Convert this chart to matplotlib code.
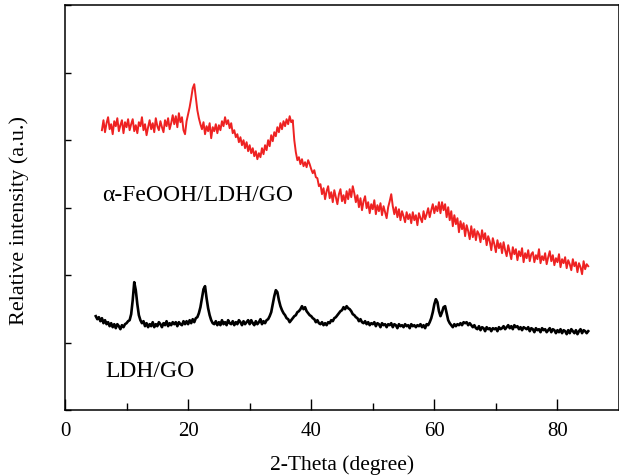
import numpy as np
import matplotlib
matplotlib.use("Agg")
import matplotlib.pyplot as plt

# XRD scan grids (0.25 degree step)
two_theta_ldh = np.arange(5.0, 85.001, 0.25)
two_theta_feooh = np.arange(6.0, 85.001, 0.25)

# LDH/GO intensity (a.u.)
ldh_go = [
    94, 91, 93, 89, 92, 87, 90, 86, 88, 84, 87, 83, 86, 82, 86, 84, 81, 85, 83, 86,
    87, 89, 90, 96, 110, 128, 120, 106, 95, 90, 87, 89, 84, 87, 83, 86, 84, 88, 83, 86,
    84, 88, 86, 83, 87, 85, 89, 84, 87, 85, 88, 86, 88, 84, 88, 86, 85, 89, 86, 89,
    86, 90, 87, 91, 88, 92, 93, 97, 103, 112, 121, 124, 112, 102, 95, 90, 87, 86, 89, 85,
    88, 85, 90, 86, 88, 85, 90, 87, 86, 89, 85, 88, 86, 90, 88, 85, 89, 86, 88, 90,
    86, 90, 87, 85, 89, 86, 88, 91, 86, 89, 87, 90, 91, 94, 98, 106, 114, 120, 118, 110,
    104, 100, 97, 95, 92, 91, 88, 90, 92, 94, 95, 98, 99, 101, 104, 101, 103, 99, 97, 95,
    94, 92, 91, 88, 90, 87, 86, 88, 85, 87, 85, 88, 87, 90, 89, 92, 93, 95, 97, 99,
    100, 103, 101, 104, 102, 101, 99, 96, 95, 93, 92, 89, 91, 88, 87, 89, 86, 88, 85, 87,
    86, 88, 84, 87, 86, 83, 87, 85, 86, 83, 86, 85, 87, 83, 86, 85, 82, 86, 84, 85,
    83, 86, 84, 85, 82, 86, 84, 85, 83, 85, 84, 86, 83, 85, 82, 86, 85, 88, 92, 98,
    106, 111, 108, 99, 94, 98, 103, 104, 97, 90, 87, 85, 83, 86, 84, 86, 85, 87, 85, 88,
    87, 88, 85, 87, 85, 83, 85, 82, 81, 84, 80, 83, 82, 79, 83, 81, 82, 79, 82, 81,
    82, 79, 83, 81, 82, 84, 81, 83, 85, 82, 84, 81, 85, 83, 84, 81, 83, 80, 83, 82,
    81, 83, 79, 82, 81, 78, 82, 80, 81, 78, 82, 80, 81, 78, 80, 82, 78, 81, 80, 77,
    80, 78, 81, 77, 80, 79, 76, 80, 77, 81, 79, 77, 80, 76, 79, 81, 77, 80, 79, 77,
    79,
]

# alpha-FeOOH/LDH/GO intensity (a.u.)
feooh_ldh_go = [
    280, 290, 278, 287, 293, 281, 286, 276, 289, 284, 292, 279, 285, 290, 277, 288, 283, 291, 280, 286,
    291, 279, 285, 277, 288, 284, 293, 280, 286, 275, 283, 290, 281, 287, 278, 292, 284, 280, 289, 283,
    278, 290, 284, 292, 281, 287, 295, 286, 294, 283, 297, 288, 293, 280, 276, 289, 296, 303, 312, 322,
    326, 313, 300, 292, 286, 281, 288, 276, 284, 279, 287, 272, 283, 279, 286, 277, 285, 280, 289, 284,
    293, 286, 290, 282, 287, 277, 280, 273, 276, 268, 273, 265, 270, 262, 268, 259, 265, 257, 262, 254,
    259, 251, 257, 253, 262, 256, 265, 260, 270, 264, 275, 269, 278, 274, 283, 278, 287, 281, 289, 284,
    291, 286, 294, 288, 290, 270, 258, 250, 253, 246, 251, 244, 248, 243, 250, 246, 241, 237, 240, 233,
    232, 224, 226, 216, 222, 211, 219, 224, 212, 218, 208, 220, 213, 206, 216, 221, 209, 215, 207, 219,
    211, 221, 213, 224, 217, 208, 215, 203, 212, 200, 209, 214, 202, 208, 197, 206, 201, 210, 196, 205,
    199, 207, 195, 204, 198, 192, 203, 209, 216, 204, 196, 203, 193, 201, 190, 199, 194, 188, 198, 191,
    196, 187, 198, 190, 195, 185, 197, 192, 188, 199, 191, 196, 202, 193, 200, 206, 197, 204, 199, 208,
    197, 208, 200, 206, 193, 203, 190, 199, 184, 195, 186, 192, 178, 189, 181, 187, 174, 185, 179, 171,
    184, 173, 181, 170, 179, 176, 168, 180, 171, 177, 165, 174, 169, 160, 172, 166, 158, 170, 162, 167,
    157, 168, 160, 154, 165, 158, 151, 163, 156, 161, 150, 159, 154, 162, 148, 157, 152, 160, 149, 156,
    158, 148, 155, 151, 161, 147, 154, 150, 157, 146, 153, 159, 149, 155, 145, 152, 148, 156, 143, 151,
    147, 153, 142, 150, 146, 140, 151, 144, 148, 138, 147, 143, 136, 149, 141, 146, 144,
]

plt.rcParams['font.family'] = ['Liberation Serif', 'DejaVu Serif']

fig = plt.figure(figsize=(6.19, 4.77), dpi=100)
ax = fig.add_axes([0.105, 0.138, 0.895, 0.849])

ax.plot(two_theta_ldh, ldh_go, color='black', linewidth=1.9)
ax.plot(two_theta_feooh, feooh_ldh_go, color='#ee2222', linewidth=1.4)

ax.text(6.0, 216, 'α-FeOOH/LDH/GO', fontsize=17, va='center', ha='left')
ax.text(6.5, 40, 'LDH/GO', fontsize=17, va='center', ha='left')

ax.set_xlim(0, 90)
ax.set_ylim(0, 405)
ax.set_xticks([0, 20, 40, 60, 80])
ax.set_xticks([10, 30, 50, 70], minor=True)
ax.set_yticks(np.arange(0, 406, 67.5))
ax.set_yticklabels([])
ax.tick_params(axis='x', which='major', direction='in', length=8, width=1, labelsize=15, pad=8)
ax.tick_params(axis='x', which='minor', direction='in', length=5, width=1)
ax.tick_params(axis='y', direction='in', length=4, width=1)
for s in ax.spines.values():
    s.set_linewidth(1.1)

ax.set_xlabel('2-Theta (degree)', fontsize=15.5, labelpad=10)
ax.set_ylabel('Relative intensity (a.u.)', fontsize=16)
ax.yaxis.set_label_coords(-0.065, 0.47)

fig.savefig('out.png', dpi=100)
